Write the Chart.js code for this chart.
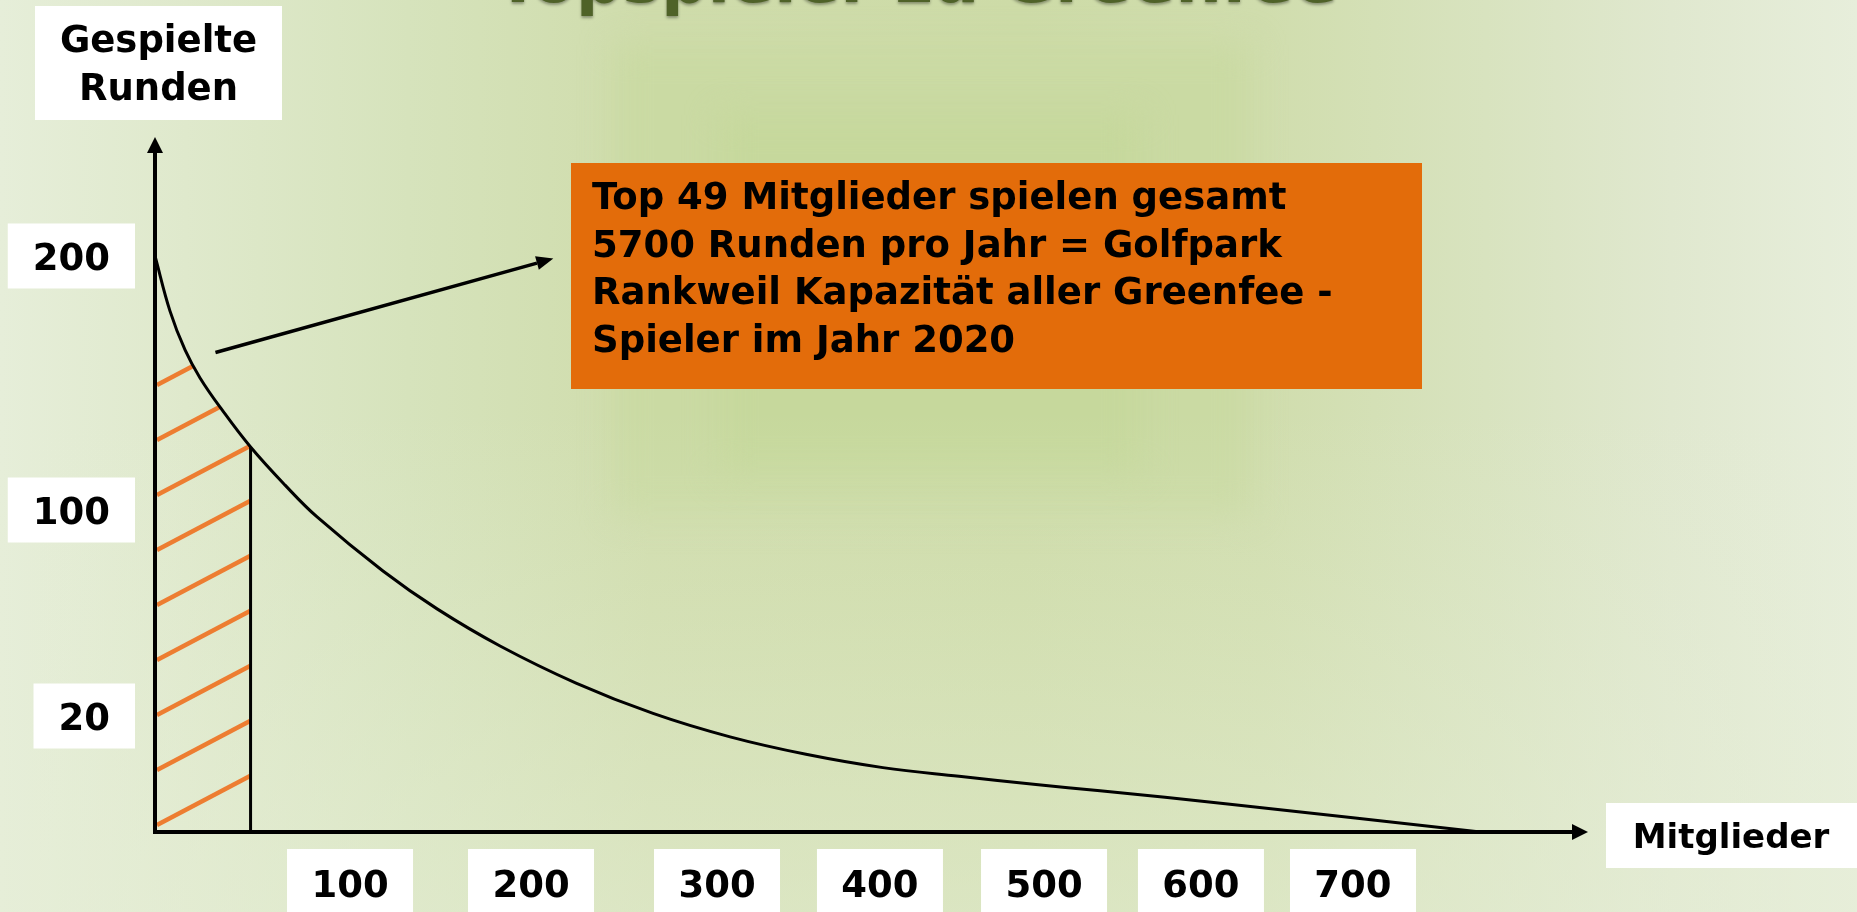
<!DOCTYPE html>
<html>
<head>
<meta charset="utf-8">
<script src="https://cdn.jsdelivr.net/npm/chart.js@4.4.1/dist/chart.umd.min.js"></script>
<style>
  html, body { margin: 0; padding: 0; }
  body {
    width: 1857px; height: 912px; overflow: hidden; position: relative;
    background: linear-gradient(90deg, #e6eed9 0%, #dfe9cc 10%, #d6e3bc 22%, #cfdcab 35%, #cddba7 55%, #d0ddad 68%, #d8e3bf 80%, #e0e8cf 90%, #e7eedb 100%);
  }
  .glow { position: absolute; filter: blur(16px); }
  #fade { position: absolute; left: 0; top: 0; width: 100%; height: 100%;
    background: linear-gradient(180deg, rgba(230,238,215,0) 45%, rgba(230,238,215,0.55) 100%); }
  #wrap { position: absolute; left: 0; top: 0; width: 1857px; height: 912px; }
</style>
</head>
<body>
<div class="glow" style="left:615px;top:45px;width:635px;height:470px;background:#cadaa3;"></div>
<div class="glow" style="left:720px;top:115px;width:420px;height:360px;background:#c6d89c;"></div>
<div id="fade"></div>
<div id="wrap"><canvas id="chart"></canvas></div>
<script>
// Mitglieder (x) und gespielte Runden (y)
const members = [0, 7.7, 15.4, 23.1, 34.4, 49, 66.7, 83.1, 118.2, 148.1, 182.9, 224.2, 265.6, 308, 354.6, 401.8, 448.2, 495.1, 535.7, 619.1, 784];
const rounds = [200, 178.3, 163, 152, 139.4, 124.8, 109.8, 97.3, 76.3, 61.6, 47.2, 32.8, 21.0, 16.4, 13.4, 11.1, 9.6, 8.2, 7.1, 4.8, 0];
const xTicks = [100, 200, 300, 400, 500, 600, 700];
const yTicks = [20, 100, 200];
const topMembers = 49;
const noteLines = [
  'Top 49 Mitglieder spielen gesamt',
  '5700 Runden pro Jahr = Golfpark',
  'Rankweil Kapazität aller Greenfee -',
  'Spieler im Jahr 2020'
];

// the axes are hand drawn, ticks are not evenly spaced: value -> fraction of axis
const anchors = {
  x: [[0, 0], [100, 0.1361], [200, 0.2624], [300, 0.3922], [400, 0.5059], [500, 0.6204], [600, 0.7299], [700, 0.836], [855, 1]],
  y: [[0, 0], [20, 0.1669], [100, 0.4633], [200, 0.8288], [247, 1]]
};

function interp(list, v, from, to) {
  let i = 0;
  while (i < list.length - 2 && v > list[i + 1][from]) i++;
  const a = list[i], b = list[i + 1];
  return a[to] + (v - a[from]) / (b[from] - a[from]) * (b[to] - a[to]);
}

class PiecewiseScale extends Chart.LinearScale {
  getPixelForValue(value) {
    const f = interp(anchors[this.id], value, 0, 1);
    return this.isHorizontal() ? this.left + f * this.width : this.bottom - f * this.height;
  }
  getValueForPixel(pixel) {
    const f = this.isHorizontal() ? (pixel - this.left) / this.width : (this.bottom - pixel) / this.height;
    return interp(anchors[this.id], f, 1, 0);
  }
}
PiecewiseScale.id = 'piecewise';
PiecewiseScale.defaults = Chart.LinearScale.defaults;
Chart.register(PiecewiseScale);

const curve = members.map((m, i) => ({ x: m, y: rounds[i] }));
const topIdx = members.indexOf(topMembers);
const topArea = curve.slice(0, topIdx + 1);
const topLine = [{ x: topMembers, y: 0 }, { x: topMembers, y: rounds[topIdx] }];

// orange hatch, 9 strokes stacked from the x axis up
const tile = document.createElement('canvas');
tile.width = 104;
tile.height = 500;
const tc = tile.getContext('2d');
tc.strokeStyle = '#ed7d31';
tc.lineWidth = 4.5;
for (let i = 0; i < 9; i++) {
  const yl = tile.height - 7 - 55 * i;
  tc.beginPath();
  tc.moveTo(2, yl);
  tc.lineTo(95, yl - 49);
  tc.stroke();
}

const ctx = document.getElementById('chart').getContext('2d');
const hatch = ctx.createPattern(tile, 'no-repeat');

const font = (size) => 'bold ' + size + 'px "DejaVu Sans", Verdana, sans-serif';

function arrow(c, x1, y1, x2, y2, len, half) {
  const a = Math.atan2(y2 - y1, x2 - x1);
  const bx = x2 - len * Math.cos(a), by = y2 - len * Math.sin(a);
  c.beginPath();
  c.moveTo(x1, y1);
  c.lineTo(bx, by);
  c.stroke();
  c.beginPath();
  c.moveTo(x2, y2);
  c.lineTo(bx + half * Math.sin(a), by - half * Math.cos(a));
  c.lineTo(bx - half * Math.sin(a), by + half * Math.cos(a));
  c.closePath();
  c.fill();
}

const sketch = {
  id: 'sketch',
  beforeDraw(chart) {
    const x0 = chart.scales.x.getPixelForValue(0);
    const y0 = chart.scales.y.getPixelForValue(0);
    hatch.setTransform(new DOMMatrix([1, 0, 0, 1, x0, y0 - tile.height]));
  },
  afterDraw(chart) {
    const c = chart.ctx;
    const xs = chart.scales.x, ys = chart.scales.y;
    const x0 = xs.getPixelForValue(0), y0 = ys.getPixelForValue(0);
    c.save();

    // title (mostly cut off at the top)
    c.save();
    c.font = font(65);
    c.textAlign = 'center';
    c.textBaseline = 'alphabetic';
    c.fillStyle = '#4f6228';
    c.shadowColor = 'rgba(0,0,0,0.35)';
    c.shadowBlur = 3;
    c.shadowOffsetY = 2;
    c.fillText('Topspieler zu Greenfee', 917, 2);
    c.restore();

    // axes
    c.strokeStyle = '#000';
    c.fillStyle = '#000';
    c.lineWidth = 4;
    arrow(c, x0, y0 + 2, x0, ys.top, 16, 8);
    arrow(c, x0 - 2, y0, xs.right, y0, 16, 8);

    // annotation arrow
    c.lineWidth = 3.5;
    arrow(c, xs.getPixelForValue(31), ys.getPixelForValue(162),
      xs.getPixelForValue(212), ys.getPixelForValue(199), 17, 7);

    c.textAlign = 'center';
    c.textBaseline = 'alphabetic';

    // y tick labels
    c.font = font(37);
    yTicks.forEach(v => {
      const py = ys.getPixelForValue(v);
      const w = c.measureText(String(v)).width + 50;
      const right = x0 - 20;
      c.fillStyle = '#fff';
      c.fillRect(right - w, py - 32.5, w, 65);
      c.fillStyle = '#000';
      c.fillText(String(v), right - w / 2, py + 14);
    });

    // x tick labels
    xTicks.forEach(v => {
      const px = xs.getPixelForValue(v);
      c.fillStyle = '#fff';
      c.fillRect(px - 63, y0 + 17, 126, 80);
      c.fillStyle = '#000';
      c.fillText(String(v), px, y0 + 65);
    });

    // axis titles
    c.fillStyle = '#fff';
    c.fillRect(35, 6, 247, 114);
    c.fillStyle = '#000';
    c.fillText('Gespielte', 158.5, 52);
    c.fillText('Runden', 158.5, 100);

    c.fillStyle = '#fff';
    c.fillRect(1606, 803, 251, 65);
    c.fillStyle = '#000';
    c.font = font(34);
    c.fillText('Mitglieder', 1731, 848);

    // orange note
    c.fillStyle = '#e36c0a';
    c.fillRect(571, 163, 851, 226);
    c.fillStyle = '#000';
    c.font = font(37);
    c.textAlign = 'left';
    noteLines.forEach((t, i) => c.fillText(t, 592, 209 + i * 47.5));

    c.restore();
  }
};

new Chart(ctx, {
  type: 'scatter',
  data: {
    datasets: [
      { data: topArea, showLine: true, fill: 'origin', backgroundColor: hatch, borderWidth: 0,
        pointRadius: 0, tension: 0.4, order: 3 },
      { data: topLine, showLine: true, borderColor: '#000', borderWidth: 3, pointRadius: 0, order: 2 },
      { data: curve, showLine: true, borderColor: '#000', borderWidth: 3, pointRadius: 0,
        tension: 0.4, borderJoinStyle: 'round', order: 1 }
    ]
  },
  options: {
    animation: false,
    responsive: true,
    maintainAspectRatio: false,
    events: [],
    layout: { padding: { left: 155, right: 269, top: 137, bottom: 80 } },
    plugins: { legend: { display: false }, tooltip: { enabled: false } },
    scales: {
      x: { type: 'piecewise', min: 0, max: 855, display: false },
      y: { type: 'piecewise', min: 0, max: 247, display: false }
    }
  },
  plugins: [sketch]
});
</script>
</body>
</html>
